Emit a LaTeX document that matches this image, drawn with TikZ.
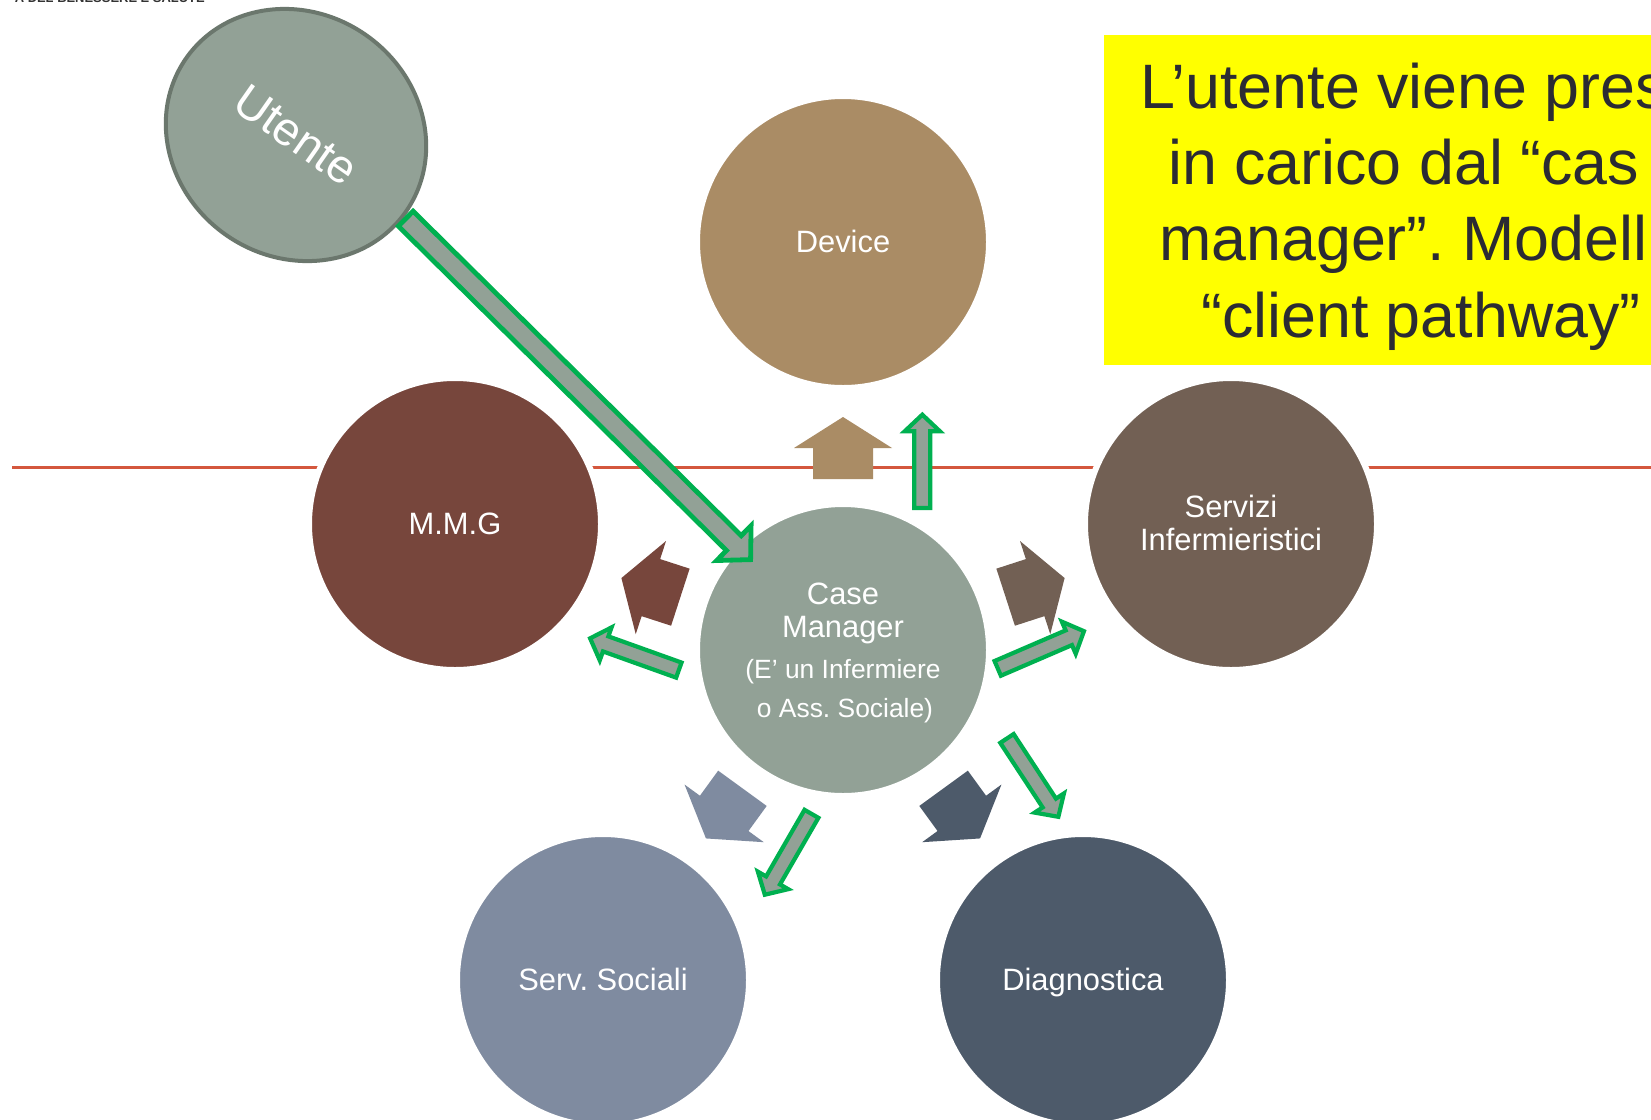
\documentclass[tikz,border=0pt]{standalone}
\usepackage{fontspec}
\setmainfont{Liberation Sans}
\usetikzlibrary{calc,shapes.geometric}
\definecolor{cmgray}{HTML}{92A196}
\definecolor{utborder}{HTML}{6B776D}
\definecolor{devcol}{HTML}{AA8C65}
\definecolor{mmgcol}{HTML}{77463C}
\definecolor{srvcol}{HTML}{726054}
\definecolor{soccol}{HTML}{7F8BA0}
\definecolor{diacol}{HTML}{4D5A6A}
\definecolor{redline}{HTML}{D4573D}
\definecolor{garrow}{HTML}{00B050}
\definecolor{ytext}{HTML}{2B2B33}
\definecolor{ybox}{HTML}{FFFF00}

% #1 tail, #2 tip, #3 body half-width, #4 head half-width, #5 head length, #6 style
\newcommand{\shapearrow}[6]{%
  \coordinate (sa-h) at ($(#2)!#5!(#1)$);
  \path[#6] ($(#1)!#3!90:(#2)$) -- ($(sa-h)!#3!90:(#2)$) -- ($(sa-h)!#4!90:(#2)$) -- (#2)
    -- ($(sa-h)!#4!-90:(#2)$) -- ($(sa-h)!#3!-90:(#2)$) -- ($(#1)!#3!-90:(#2)$) -- cycle;}
% outlined green arrow from outer tail #1 to outer tip #2
\newcommand{\greenarrow}[2]{%
  \coordinate (ga-t) at ($(#1)!2.1bp!(#2)$);
  \coordinate (ga-p) at ($(#2)!3bp!(#1)$);
  \shapearrow{ga-t}{ga-p}{8bp}{17.5bp}{16.5bp}{greenarr}}
% solid block arrow from centre #1 toward centre #2
\newcommand{\blockarrow}[3]{%
  \coordinate (bk-t) at ($(#1.center)!171bp!(#2.center)$);
  \coordinate (bk-p) at ($(#1.center)!233bp!(#2.center)$);
  \shapearrow{bk-t}{bk-p}{30bp}{49bp}{31bp}{fill=#3}}

\begin{document}
\frenchspacing
\begin{tikzpicture}[x=1bp,y=-1bp,
  circ/.style={circle, draw=white, line width=6bp, minimum size=292bp, inner sep=0pt},
  lbl/.style={text=white, anchor=base, inner sep=0pt, font=\fontsize{31}{33}\selectfont},
  smalllbl/.style={text=white, anchor=base, inner sep=0pt, font=\fontsize{26.5}{30}\selectfont},
  ytxt/.style={anchor=base west, inner sep=0pt, text=ytext, font=\fontsize{63}{76}\selectfont},
  greenarr/.style={draw=garrow, fill=cmgray, line width=4.2bp, line join=miter},
  bigarr/.style={draw=garrow, fill=cmgray, line width=4.8bp, line join=miter},
]
\useasboundingbox (0,0) rectangle (1651,1119);
\clip (0,0) rectangle (1651,1119);
\fill[white] (0,0) rectangle (1651,1119);

% header (cut at top)
\node[anchor=base east, inner sep=0pt, text=black!80, font=\bfseries\fontsize{13}{15}\selectfont] (hdr) at (205,2.5) {A DEL BENESSERE E SALUTE};

% yellow box
\fill[ybox] (1103.6,35) rectangle (1700,365);
\node[ytxt] (yl1) at (1140,108) {L’utente viene pres};
\node[ytxt] (yl2) at (1168,184) {in carico dal “cas};
\node[ytxt] (yl3) at (1159,260) {manager”. Modell};
\node[ytxt] (yl4) at (1201,337) {“client pathway”};

% red line
\coordinate (rla) at (12,467.5);
\coordinate (rlb) at (1660,467.5);
\draw[redline, line width=3.6bp] (rla) -- (rlb);

% circles
\node[circ, fill=cmgray] (cm)  at (843,650) {};
\node[circ, fill=devcol] (dev) at (843,242) {};
\node[circ, fill=mmgcol] (mmg) at (455,524) {};
\node[circ, fill=srvcol] (srv) at (1231,524) {};
\node[circ, fill=soccol] (soc) at (603,980) {};
\node[circ, fill=diacol] (dia) at (1083,980) {};

% Utente ellipse
\node[ellipse, draw=utborder, line width=4bp, fill=cmgray, minimum width=268bp, minimum height=244bp,
      inner sep=0pt, rotate=-35, text=white, font=\fontsize{47}{50}\selectfont] (ute) at (296,135) {Utente};

% labels
\node[lbl] (devL) at ($(dev.center)+(0,10.5)$) {Device};
\node[lbl] (mmgL) at ($(mmg.center)+(0,10.5)$) {M.M.G};
\node[lbl] (srvL1) at (1231,517) {Servizi};
\node[lbl] (srvL2) at (1231,550) {Infermieristici};
\node[lbl] (socL) at ($(soc.center)+(0,10.5)$) {Serv. Sociali};
\node[lbl] (diaL) at ($(dia.center)+(0,10.5)$) {Diagnostica};
\node[lbl] (cmL1) at (843,604) {Case};
\node[lbl] (cmL2) at (843,637) {Manager};
\node[smalllbl] (cmL3) at (843,678) {(E’ un Infermiere};
\node[smalllbl] (cmL4) at (845,717) {o Ass. Sociale)};

% block arrows
\blockarrow{cm}{dev}{devcol}
\blockarrow{cm}{mmg}{mmgcol}
\blockarrow{cm}{srv}{srvcol}
\blockarrow{cm}{soc}{soccol}
\blockarrow{cm}{dia}{diacol}

% green arrows
\coordinate (gdT) at (922.3,510);   \coordinate (gdP) at (922.3,411.7);
\coordinate (gmT) at (680.8,670.8); \coordinate (gmP) at (587.3,637.3);
\coordinate (gsT) at (995.8,669.2); \coordinate (gsP) at (1086.7,630);
\coordinate (giT) at (1005.8,736.7); \coordinate (giP) at (1060,819.3);
\coordinate (goT) at (812.5,812);   \coordinate (goP) at (763.3,897.3);
\greenarrow{gdT}{gdP}
\greenarrow{gmT}{gmP}
\greenarrow{gsT}{gsP}
\greenarrow{giT}{giP}
\greenarrow{goT}{goP}

% big arrow Utente -> Case Manager
\coordinate (buT) at (404,217);
\coordinate (buP) at (753,562);
\coordinate (bu-t) at ($(buT)!2.4bp!(buP)$);
\coordinate (bu-p) at ($(buP)!3.4bp!(buT)$);
\shapearrow{bu-t}{bu-p}{10.5bp}{24.5bp}{23.5bp}{bigarr}
\end{tikzpicture}
\end{document}
